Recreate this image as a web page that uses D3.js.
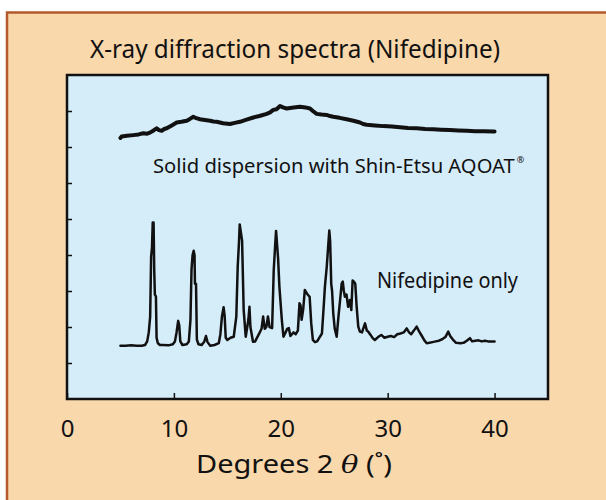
<!DOCTYPE html>
<html>
<head>
<meta charset="utf-8">
<script src="https://cdn.jsdelivr.net/npm/d3@7"></script>
<style>
  html, body { margin: 0; padding: 0; background: #ffffff; }
  svg { display: block; }
  text { font-family: "Noto Sans", "DejaVu Sans", sans-serif; fill: #111; }
</style>
</head>
<body>
<svg id="chart" width="606" height="500"></svg>
<script>
// ---------------- data ----------------
const titleText = "X-ray diffraction spectra (Nifedipine)";
const xTickValues = [0, 10, 20, 30, 40];
const yTickValues = [1, 2, 3, 4, 5, 6, 7, 8];
const xDomain = [0, 45];
const yDomain = [0, 9];

// Nifedipine only (2θ, intensity)
const nifTheta = [5.0,5.5,6.0,6.5,7.0,7.3,7.5,7.65,7.78,7.87,7.95,8.02,8.1,8.16,8.22,8.32,8.38,8.5,8.7,9.0,9.5,9.9,
  10.1,10.25,10.4,10.5,10.6,10.8,11.2,11.4,11.55,11.65,11.75,11.85,11.93,11.97,12.07,12.15,12.3,12.6,
  12.85,13.0,13.15,13.4,13.8,14.2,14.35,14.5,14.65,14.75,14.85,15.0,15.3,15.6,15.84,15.97,16.08,16.16,16.38,16.53,16.72,
  16.97,17.07,17.16,17.4,17.6,18.0,18.2,18.35,18.5,18.65,18.8,18.95,19.19,19.34,19.48,19.56,19.75,19.87,20.1,20.25,20.45,20.6,20.75,20.9,21.2,21.4,
  21.6,21.75,21.85,21.95,22.1,22.25,22.4,22.55,22.7,22.85,23.0,23.2,23.4,23.6,23.85,24.0,24.13,24.3,24.45,24.54,24.62,24.72,24.8,24.91,25.05,25.23,
  25.4,25.55,25.7,25.8,25.9,26.0,26.15,26.3,26.47,26.6,26.72,26.85,26.97,27.1,27.25,27.4,27.6,27.88,28.05,28.19,28.4,28.6,28.8,
  29.1,29.4,29.7,30.0,30.3,30.6,30.9,31.2,31.5,31.78,32.0,32.2,32.45,32.71,32.9,33.2,33.45,33.65,33.9,34.2,34.5,34.8,35.1,35.4,35.67,35.85,
  36.1,36.4,36.8,37.1,37.4,37.7,37.9,38.2,38.5,38.8,39.1,39.4,39.7,40.0];
const nifIntensity = [1.48,1.48,1.49,1.48,1.48,1.50,1.60,1.85,2.29,3.95,4.2,4.9,4.9,3.6,2.9,2.85,1.7,1.55,1.5,1.5,1.49,1.52,
  1.6,1.85,2.17,2.05,1.6,1.5,1.52,1.6,2.2,3.6,4.0,4.12,4.0,3.2,3.2,1.65,1.52,1.5,
  1.6,1.75,1.58,1.48,1.5,1.55,1.8,2.3,2.55,2.3,1.7,1.64,1.7,1.73,2.29,3.67,4.3,4.85,4.4,2.47,1.73,
  2.2,2.56,2.0,1.59,1.6,1.83,1.95,2.29,1.95,2.0,2.29,2.0,1.97,3.57,4.3,4.67,3.9,3.12,2.19,1.73,1.85,1.95,1.97,1.75,1.85,1.8,
  1.9,2.66,2.6,2.2,2.5,3.03,2.95,2.89,2.84,2.1,1.64,1.58,1.6,1.7,1.82,2.5,3.12,3.67,4.3,4.68,4.37,3.2,3.0,2.38,1.95,1.73,
  2.3,2.75,3.21,3.26,3.0,2.84,2.9,2.56,2.75,2.47,3.29,3.26,3.2,2.56,2.01,1.87,1.85,2.1,1.9,1.87,1.78,1.69,1.64,
  1.72,1.78,1.7,1.73,1.75,1.72,1.8,1.82,1.85,1.96,1.85,1.8,1.9,2.01,1.9,1.75,1.62,1.55,1.56,1.58,1.6,1.62,1.66,1.72,1.87,1.75,
  1.65,1.56,1.55,1.56,1.62,1.69,1.6,1.62,1.63,1.6,1.62,1.6,1.6,1.6];

// Solid dispersion with AQOAT (2θ, intensity)
const sdTheta = [5.0,5.11,5.6,6.2,6.7,7.14,7.5,7.76,8.1,8.39,8.6,8.86,9.1,9.33,9.8,10.26,10.7,11.2,11.5,11.82,12.1,12.44,12.9,13.38,13.7,14.0,14.6,15.25,15.7,16.18,
  16.8,17.43,18.0,18.68,19.0,19.3,19.6,19.93,20.2,20.55,21.2,21.8,22.3,22.73,23.0,23.36,23.8,24.29,24.6,24.91,25.5,26.16,26.8,27.41,27.7,28.04,28.8,29.59,30.4,31.15,
  31.9,32.71,33.5,34.27,35.0,35.83,36.6,37.39,38.2,39.0,39.88,40.0];
const sdIntensity = [7.25,7.29,7.31,7.33,7.35,7.38,7.37,7.40,7.46,7.52,7.47,7.45,7.50,7.52,7.60,7.68,7.70,7.73,7.78,7.84,7.80,7.77,7.75,7.73,7.71,7.70,7.66,7.64,7.67,7.70,
  7.76,7.82,7.86,7.92,7.96,8.03,8.05,8.14,8.10,8.07,8.10,8.12,8.10,8.07,8.00,7.92,7.90,7.89,7.86,7.84,7.81,7.77,7.73,7.68,7.64,7.62,7.60,7.58,7.57,7.55,
  7.53,7.52,7.50,7.49,7.48,7.47,7.46,7.45,7.44,7.44,7.43,7.43];

const labelSD = "Solid dispersion with Shin-Etsu AQOAT";
const labelSDMark = "®";
const labelNif = "Nifedipine only";
const xAxisTitle = "Degrees 2 ";
const thetaSym = "θ";
const degreeText = " (˚)";

// ---------------- drawing ----------------
const svg = d3.select("#chart");
const plot = { left: 67, right: 548, top: 75, bottom: 399 };

// outer panel
svg.append("rect").attr("x", 7).attr("y", 12.5).attr("width", 640).attr("height", 520)
  .attr("fill", "#f9d8ab").attr("stroke", "#b3592c").attr("stroke-width", 2.5);

// title
svg.append("text").attr("x", 295).attr("y", 58).attr("text-anchor", "middle")
  .attr("font-size", 25).attr("textLength", 410).attr("lengthAdjust", "spacingAndGlyphs")
  .text(titleText);

const x = d3.scaleLinear().domain(xDomain).range([plot.left, plot.right]);
const y = d3.scaleLinear().domain(yDomain).range([plot.bottom, plot.top]);

// plot background
svg.append("rect").attr("x", plot.left).attr("y", plot.top)
  .attr("width", plot.right - plot.left).attr("height", plot.bottom - plot.top)
  .attr("fill", "#d5ecf9");

// y ticks (inward, unlabeled)
const yAxis = d3.axisRight(y).tickValues(yTickValues).tickSize(5).tickFormat("");
const gy = svg.append("g").attr("transform", `translate(${plot.left},0)`).call(yAxis);
gy.select(".domain").remove();
gy.selectAll(".tick line").attr("stroke", "#111").attr("stroke-width", 1.5);

// x ticks (inward)
const xAxis = d3.axisTop(x).tickValues(xTickValues).tickSize(6).tickFormat("");
const gx = svg.append("g").attr("transform", `translate(0,${plot.bottom})`).call(xAxis);
gx.select(".domain").remove();
gx.selectAll(".tick line").attr("stroke", "#111").attr("stroke-width", 1.5);

// x tick labels
const xLab = d3.axisBottom(x).tickValues(xTickValues).tickSize(0).tickPadding(0).tickFormat(d3.format("d"));
const gxl = svg.append("g").attr("transform", `translate(0,${plot.bottom})`).call(xLab);
gxl.select(".domain").remove();
gxl.selectAll(".tick text").attr("font-size", 24).attr("dy", null).attr("y", 38)
  .attr("fill", "#111").style("font-family", '"Noto Sans", sans-serif');

// curves
const line = d3.line().x(d => x(d[0])).y(d => y(d[1])).curve(d3.curveLinear);
const nifData = nifTheta.map((t, i) => [t, nifIntensity[i]]);
const sdData = sdTheta.map((t, i) => [t, sdIntensity[i]]);

svg.append("path").datum(sdData).attr("d", line).attr("fill", "none")
  .attr("stroke", "#111").attr("stroke-width", 4).attr("stroke-linejoin", "round").attr("stroke-linecap", "round");
svg.append("path").datum(nifData).attr("d", line).attr("fill", "none")
  .attr("stroke", "#111").attr("stroke-width", 2.5).attr("stroke-linejoin", "round").attr("stroke-linecap", "round");

// frame
svg.append("rect").attr("x", plot.left).attr("y", plot.top)
  .attr("width", plot.right - plot.left).attr("height", plot.bottom - plot.top)
  .attr("fill", "none").attr("stroke", "#111").attr("stroke-width", 2.5);

// labels: size the main label so its natural width is ~362px, then place the ® after it
const sd = svg.append("text").attr("x", 153).attr("y", 173).attr("font-size", 21).text(labelSD);
const natural = sd.node().getComputedTextLength();
const fs = Math.min(21, 21 * 362 / natural);
sd.attr("font-size", fs);
const sdEnd = 153 + sd.node().getComputedTextLength();
svg.append("text").attr("x", sdEnd + 2).attr("y", 163).attr("font-size", 9).text(labelSDMark);

svg.append("text").attr("x", 377).attr("y", 288).attr("font-size", 21)
  .attr("textLength", 141).attr("lengthAdjust", "spacingAndGlyphs").text(labelNif);

// x axis title
const xt = svg.append("text").attr("x", 196).attr("y", 473).attr("font-size", 25)
  .attr("textLength", 196).attr("lengthAdjust", "spacingAndGlyphs");
xt.append("tspan").text(xAxisTitle);
xt.append("tspan").attr("font-style", "italic").style("font-family", '"DejaVu Serif", serif').text(thetaSym);
xt.append("tspan").text(degreeText);
</script>
</body>
</html>
